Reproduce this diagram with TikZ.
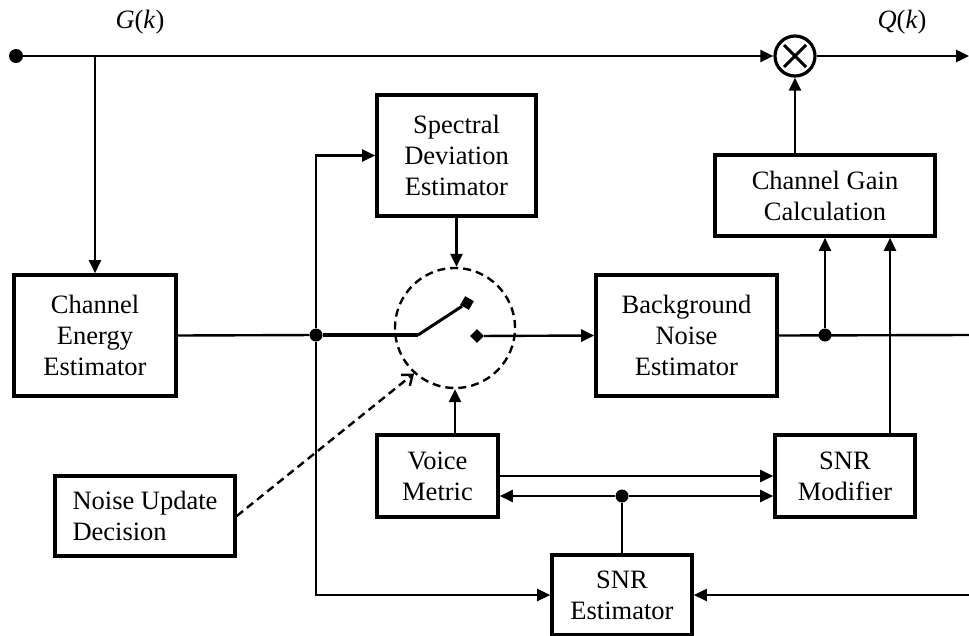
\documentclass[tikz,border=0pt]{standalone}
\usepackage{fontspec}
\setmainfont{Liberation Serif}
\usetikzlibrary{arrows.meta,shapes.geometric,calc}
\begin{document}
\begin{tikzpicture}[x=1pt,y=-1pt,
  every node/.style={font=\fontsize{26.5}{31}\selectfont},
  blk/.style={draw,line width=3.6pt,align=center,inner sep=0pt},
  wire/.style={line width=2.4pt},
  arr/.style={wire,-{Triangle[length=13pt,width=12pt]}},
  dot/.style={circle,fill,inner sep=0pt,minimum size=13pt},
]
\useasboundingbox (0,0) rectangle (969,635);

% blocks
\node[blk,minimum width=162pt,minimum height=121pt] (cee) at (95,335.5) {Channel\\Energy\\Estimator};
\node[blk,minimum width=159pt,minimum height=121pt] (sde) at (456.5,155.5) {Spectral\\Deviation\\Estimator};
\node[blk,minimum width=220pt,minimum height=81pt] (cgc) at (825,195.5) {Channel Gain\\Calculation};
\node[blk,minimum width=181pt,minimum height=121pt] (bne) at (686.5,335.5) {Background\\Noise\\Estimator};
\node[blk,minimum width=121pt,minimum height=82pt] (vm) at (437.5,476) {Voice\\Metric};
\node[blk,minimum width=140pt,minimum height=82pt] (snrm) at (845,476) {SNR\\Modifier};
\node[blk,minimum width=140pt,minimum height=80pt] (snre) at (622,595) {SNR\\Estimator};
\node[blk,minimum width=180pt,minimum height=80pt,align=left] (nud) at (145,516) {Noise Update\\Decision};

% multiplier and switch
\node[draw,circle,line width=3.2pt,minimum size=40pt,inner sep=0pt] (mult) at (795,56) {};
\draw[line width=3pt] ($(mult)+(-11,-11)$) -- ($(mult)+(11,11)$)
                      ($(mult)+(-11,11)$) -- ($(mult)+(11,-11)$);
\node[draw,circle,line width=2.4pt,dash pattern=on 8pt off 5pt,minimum size=120pt,inner sep=0pt] (sw) at (455,328) {};

% labels
\node (gk) at (140,22) {\textit{G}(\textit{k})};
\node (qk) at (902,22) {\textit{Q}(\textit{k})};

% points on the wires
\node[dot,minimum size=14pt] (in) at (16,56) {};
\coordinate (b1) at (95,56);
\coordinate (out) at (969,56);
\node[dot] (j1) at (316,335) {};
\coordinate (pivot) at (418,335);
\node[rectangle,fill,inner sep=0pt,minimum size=10pt,rotate=-30] (sq) at (467,303) {};
\node[diamond,fill,inner sep=0pt,minimum size=14pt] (dm) at (477,336) {};
\node[dot] (j2) at (825,335) {};
\coordinate (rout) at (969,335);
\coordinate (rin) at (969,595);
\node[dot] (j3) at (622,496) {};

% main path
\draw[arr] (in) -- (mult);
\draw[arr] (mult) -- (out);
\draw[arr] (b1) -- (cee.north);
\draw[arr] (cgc.north -| mult) -- (mult);

% energy estimate to switch and estimators
\draw[wire] (cee.east) -- (j1);
\draw[line width=3.2pt] (j1) -- (pivot);
\draw[line width=3pt] (pivot) -- (sq);
\draw[arr] (dm) -- (bne.west);
\draw[arr] (j1) |- (sde.west);
\draw[arr] (j1) |- (snre.west);
\draw[arr] (sde.south) -- (sde.south |- sw.north);
\draw[arr] (vm.north -| sw) -- (sw.south);
\draw[wire,dash pattern=on 8pt off 5pt,-{Straight Barb[length=9pt,width=14pt]}] (nud.east) -- (sw.228);

% noise estimate to gain calculation
\draw[wire] (bne.east) -- (rout);
\draw[arr] (j2) -- (cgc.south);
\draw[arr] ($(snrm.north)+(45,0)$) -- ($(cgc.south)+(65,0)$);

% SNR paths
\draw[arr] (vm.east) -- (snrm.west);
\draw[wire] (snre.north) -- (j3);
\draw[arr] (j3) -- (vm.east |- j3);
\draw[arr] (j3) -- (snrm.west |- j3);
\draw[arr] (rin) -- (snre.east);
\end{tikzpicture}
\end{document}
